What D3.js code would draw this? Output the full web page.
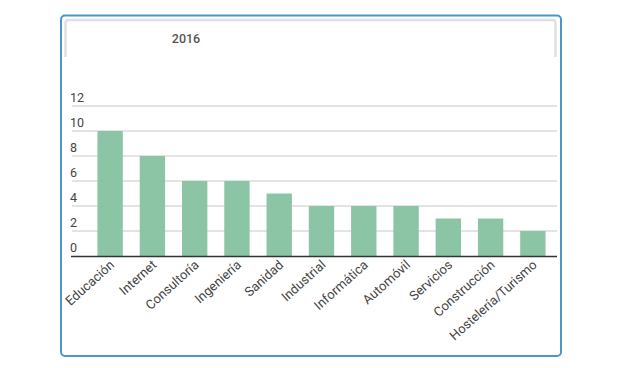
<!DOCTYPE html>
<html>
<head>
<meta charset="utf-8">
<script src="https://cdn.jsdelivr.net/npm/d3@7"></script>
<style>
  html, body { margin: 0; padding: 0; background: #fff; }
  svg { display: block; font-family: Roboto, "Open Sans", sans-serif; }
</style>
</head>
<body>
<svg id="chart" width="620" height="368"></svg>
<script>
const categories = ["Educación", "Internet", "Consultoría", "Ingeniería", "Sanidad", "Industrial", "Informática", "Automóvil", "Servicios", "Construcción", "Hostelería/Turismo"];
const values = [10, 8, 6, 6, 5, 4, 4, 4, 3, 3, 2];
const yTicks = [0, 2, 4, 6, 8, 10, 12];
const title = "2016";

const svg = d3.select("#chart");

// outer frame
svg.append("rect")
  .attr("x", 61).attr("y", 15.5).attr("width", 500).attr("height", 340.5)
  .attr("rx", 4).attr("fill", "#fff")
  .attr("stroke", "#4a98c6").attr("stroke-width", 2);

// inner gray header frame (top + sides)
svg.append("path")
  .attr("d", "M65.5,57 L65.5,23 Q65.5,20 68.5,20 L552.5,20 Q555.5,20 555.5,23 L555.5,57")
  .attr("fill", "none").attr("stroke", "#e0e0e0").attr("stroke-width", 2.5);

svg.append("text")
  .attr("x", 186).attr("y", 43)
  .attr("text-anchor", "middle")
  .attr("font-size", 12.5).attr("font-weight", 500)
  .attr("fill", "#555")
  .text(title);

const x = d3.scaleBand().domain(categories).range([89, 554]).paddingInner(0.4).paddingOuter(0.2);
const y = d3.scaleLinear().domain([0, 12]).range([256, 106]);

// gridlines
svg.append("g").selectAll("line").data(yTicks.filter(d => d > 0)).join("line")
  .attr("x1", 72).attr("x2", 557)
  .attr("y1", d => y(d)).attr("y2", d => y(d))
  .attr("stroke", "#c8c8c8").attr("stroke-width", 1);

// y labels
svg.append("g").selectAll("text").data(yTicks).join("text")
  .attr("x", 70).attr("y", d => y(d) - 4)
  .attr("font-size", 12.5).attr("fill", "#444")
  .text(d => d);

// bars
svg.append("g").selectAll("rect").data(values).join("rect")
  .attr("x", (d, i) => x(categories[i]))
  .attr("y", d => y(d))
  .attr("width", x.bandwidth())
  .attr("height", d => y(0) - y(d))
  .attr("fill", "#8cc5a6");

// baseline
svg.append("line")
  .attr("x1", 71).attr("x2", 557)
  .attr("y1", y(0) + 0.5).attr("y2", y(0) + 0.5)
  .attr("stroke", "#333").attr("stroke-width", 1.5);

// x labels
svg.append("g").selectAll("text").data(categories).join("text")
  .attr("transform", d => `translate(${x(d) + x.bandwidth() / 2 + 5},${266}) rotate(-42)`)
  .attr("text-anchor", "end")
  .attr("font-size", 13).attr("fill", "#444")
  .text(d => d);
</script>
</body>
</html>
